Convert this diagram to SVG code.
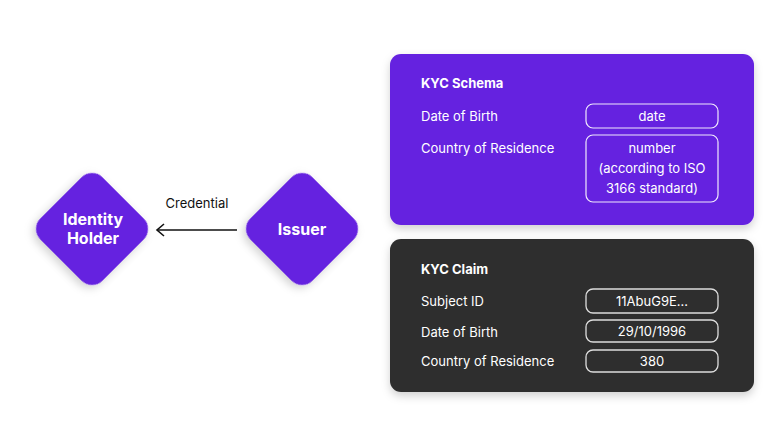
<svg xmlns="http://www.w3.org/2000/svg" width="769" height="425" viewBox="0 0 769 425">
<style>
text{font-family:Inter,"Noto Sans","Liberation Sans",sans-serif}
.lbl{fill:#fff;font-size:13px}
.ttl{fill:#fff;font-size:13px;font-weight:700}
.val{fill:#fff;font-size:13px;text-anchor:middle}
.pill{fill:none;stroke:#fff;stroke-width:1.2;opacity:0.9}
.pillc{fill:none;stroke:#ddd;stroke-width:1.3}
.dia{fill:#6521E0}
.dtxt{fill:#fff;font-size:16px;font-weight:700;text-anchor:middle}
</style>
<defs>
<filter id="sh" x="-20%" y="-20%" width="140%" height="150%">
<feDropShadow dx="0" dy="4" stdDeviation="4" flood-color="#000" flood-opacity="0.18"/>
</filter>
<marker id="arr" markerWidth="12" markerHeight="14" refX="8" refY="7" orient="auto" markerUnits="userSpaceOnUse">
<path d="M1,1 L8,7 L1,13" fill="none" stroke="#111" stroke-width="1.6"/>
</marker>
</defs>
<rect width="769" height="425" fill="#fff"/>
<g id="identity-holder">
<rect class="dia" x="48" y="185" width="88" height="88" rx="15" transform="rotate(45 92 229)" filter="url(#sh)"/>
<text class="dtxt" x="93" y="225">Identity</text>
<text class="dtxt" x="93" y="244">Holder</text>
</g>
<g id="issuer">
<rect class="dia" x="258" y="185" width="88" height="88" rx="15" transform="rotate(45 302 229)" filter="url(#sh)"/>
<text class="dtxt" x="302" y="235">Issuer</text>
</g>
<g id="connectors">
<line x1="237" y1="230" x2="157" y2="230" stroke="#111" stroke-width="1.6" marker-end="url(#arr)"/>
<text x="197" y="208" font-size="13" fill="#111" text-anchor="middle">Credential</text>
</g>
<g id="kyc-schema">
<rect x="390" y="54" width="364" height="171" rx="11" fill="#6521E0" filter="url(#sh)"/>
<text class="ttl" x="421" y="88">KYC Schema</text>
<text class="lbl" x="421" y="121">Date of Birth</text>
<text class="lbl" x="421" y="153">Country of Residence</text>
<rect class="pill" x="586" y="104" width="132" height="24" rx="7"/>
<text class="val" x="652" y="121">date</text>
<rect class="pill" x="586" y="135" width="132" height="67" rx="7"/>
<text class="val" x="652" y="153">number</text>
<text class="val" x="652" y="173">(according to ISO</text>
<text class="val" x="652" y="193">3166 standard)</text>
</g>
<g id="kyc-claim">
<rect x="390" y="239" width="364" height="153" rx="11" fill="#2F2F2F" filter="url(#sh)"/>
<text class="ttl" x="421" y="274">KYC Claim</text>
<text class="lbl" x="421" y="306">Subject ID</text>
<text class="lbl" x="421" y="337">Date of Birth</text>
<text class="lbl" x="421" y="366">Country of Residence</text>
<rect class="pillc" x="586" y="289" width="132" height="24" rx="7"/>
<text class="val" x="652" y="306">11AbuG9E...</text>
<rect class="pillc" x="586" y="320" width="132" height="22" rx="7"/>
<text class="val" x="652" y="336">29/10/1996</text>
<rect class="pillc" x="586" y="350" width="132" height="22" rx="7"/>
<text class="val" x="652" y="366">380</text>
</g>
</svg>
